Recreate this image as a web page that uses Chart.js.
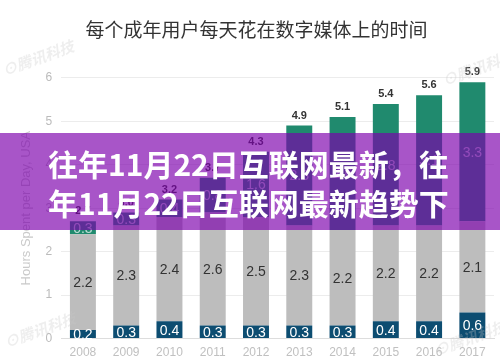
<!DOCTYPE html>
<html>
<head>
<meta charset="utf-8">
<script src="https://cdn.jsdelivr.net/npm/chart.js@4.4.0/dist/chart.umd.min.js"></script>
<style>
  html, body { margin: 0; padding: 0; background: #fff; }
  #wrap { position: relative; width: 500px; height: 364px; overflow: hidden; }
  canvas { display: block; }
  #band {
    position: absolute; left: 0; top: 133px; width: 500px; height: 97px;
    background: rgba(124, 0, 172, 0.667);
  }
  #band span {
    position: absolute; left: 48px;
    font-family: "Noto Sans CJK SC", sans-serif; font-weight: bold;
    font-size: 30px; line-height: 39px;
    color: #fff; white-space: nowrap;
  }
</style>
</head>
<body>
<div id="wrap">
  <canvas id="mygraph" width="500" height="364"></canvas>
  <div id="band">
    <span style="top:11px">往年11月22日互联网最新，往</span>
    <span style="top:50px">年11月22日互联网最新趋势下</span>
  </div>
</div>
<script>
// Données du graphe
var years = ['2008', '2009', '2010', '2011', '2012', '2013', '2014', '2015', '2016', '2017'];
var otherDevices = [0.2, 0.3, 0.4, 0.3, 0.3, 0.3, 0.3, 0.4, 0.4, 0.6];
var desktop = [2.2, 2.3, 2.4, 2.6, 2.5, 2.3, 2.2, 2.2, 2.2, 2.1];
var mobile = [0.3, 0.3, 0.4, 0.8, 1.5, 2.3, 2.6, 2.8, 3.0, 3.2];
var mobileText = ['0.3', '0.3', '0.4', '0.8', '1.6', '2.3', '2.6', '2.8', '3.1', '3.3'];
var totals = ['2.7', '3.0', '3.2', '3.7', '4.3', '4.9', '5.1', '5.4', '5.6', '5.9'];

var numFont = '"Liberation Sans", Arial, sans-serif';

// Etiquettes dans les barres + total au dessus
var labelsPlugin = {
    id: 'segLabels',
    afterDatasetsDraw: function(chart) {
        var ctx = chart.ctx;
        ctx.save();
        ctx.textAlign = 'center';
        ctx.textBaseline = 'middle';
        chart.data.datasets.forEach(function(ds, d) {
            var meta = chart.getDatasetMeta(d);
            meta.data.forEach(function(bar, i) {
                var mid = (bar.y + bar.base) / 2;
                ctx.font = '14px ' + numFont;
                ctx.fillStyle = ds.labelColor;
                var txt = ds.texts ? ds.texts[i] : ds.data[i].toFixed(1);
                ctx.fillText(txt, bar.x, mid + 1);
                if (d === chart.data.datasets.length - 1) {
                    ctx.font = 'bold 11px ' + numFont;
                    ctx.fillStyle = '#333';
                    ctx.fillText(totals[i], bar.x, bar.y - 10);
                }
            });
        });
        ctx.restore();
    }
};

// Filigrane
var watermarkPlugin = {
    id: 'watermark',
    afterDraw: function(chart) {
        var ctx = chart.ctx;
        var spots = [[38, 58], [40, 330], [478, 68], [470, 338]];
        ctx.save();
        ctx.font = 'italic bold 15px "Noto Sans CJK SC", sans-serif';
        ctx.fillStyle = 'rgba(200, 200, 200, 0.3)';
        ctx.textAlign = 'center';
        ctx.textBaseline = 'middle';
        spots.forEach(function(p) {
            ctx.save();
            ctx.translate(p[0], p[1]);
            ctx.rotate(-0.35);
            ctx.fillText('⊙腾讯科技', 0, 0);
            ctx.restore();
        });
        ctx.restore();
    }
};

var ctx = document.getElementById('mygraph');

var myGraph = new Chart(ctx, {
    type: 'bar',
    data: {
        labels: years,
        datasets: [
            { data: otherDevices, backgroundColor: '#0d4d71', labelColor: '#fff' },
            { data: desktop, backgroundColor: '#bdbdbd', labelColor: '#333' },
            { data: mobile, texts: mobileText, backgroundColor: '#208a6e', labelColor: 'rgba(255,255,255,0.7)' }
        ]
    },
    options: {
        responsive: false,
        animation: false,
        layout: { padding: { left: 19, right: 6, top: 0, bottom: -3 } },
        datasets: { bar: { barPercentage: 0.6, categoryPercentage: 1.0 } },
        plugins: {
            legend: { display: false },
            tooltip: { enabled: false },
            title: {
                display: true,
                text: '每个成年用户每天花在数字媒体上的时间',
                color: '#333',
                font: { family: '"Noto Sans CJK SC", sans-serif', size: 19, weight: 'normal' },
                padding: { top: 18, bottom: 37 }
            }
        },
        scales: {
            x: {
                stacked: true,
                grid: { display: false, drawTicks: false },
                border: { display: true, color: '#ddd' },
                ticks: { color: '#c0c0c0', font: { family: numFont, size: 12 }, padding: 7 }
            },
            y: {
                stacked: true,
                min: 0,
                max: 6,
                grid: { color: '#ececec', drawTicks: false },
                border: { display: false },
                ticks: { stepSize: 1, color: '#bbb', font: { family: numFont, size: 12 }, padding: 9 },
                title: {
                    display: true,
                    text: 'Hours Spent per Day, USA',
                    color: '#cacaca',
                    font: { family: numFont, size: 13 },
                    padding: { top: 0, bottom: 2 }
                }
            }
        }
    },
    plugins: [labelsPlugin, watermarkPlugin]
});
</script>
</body>
</html>
